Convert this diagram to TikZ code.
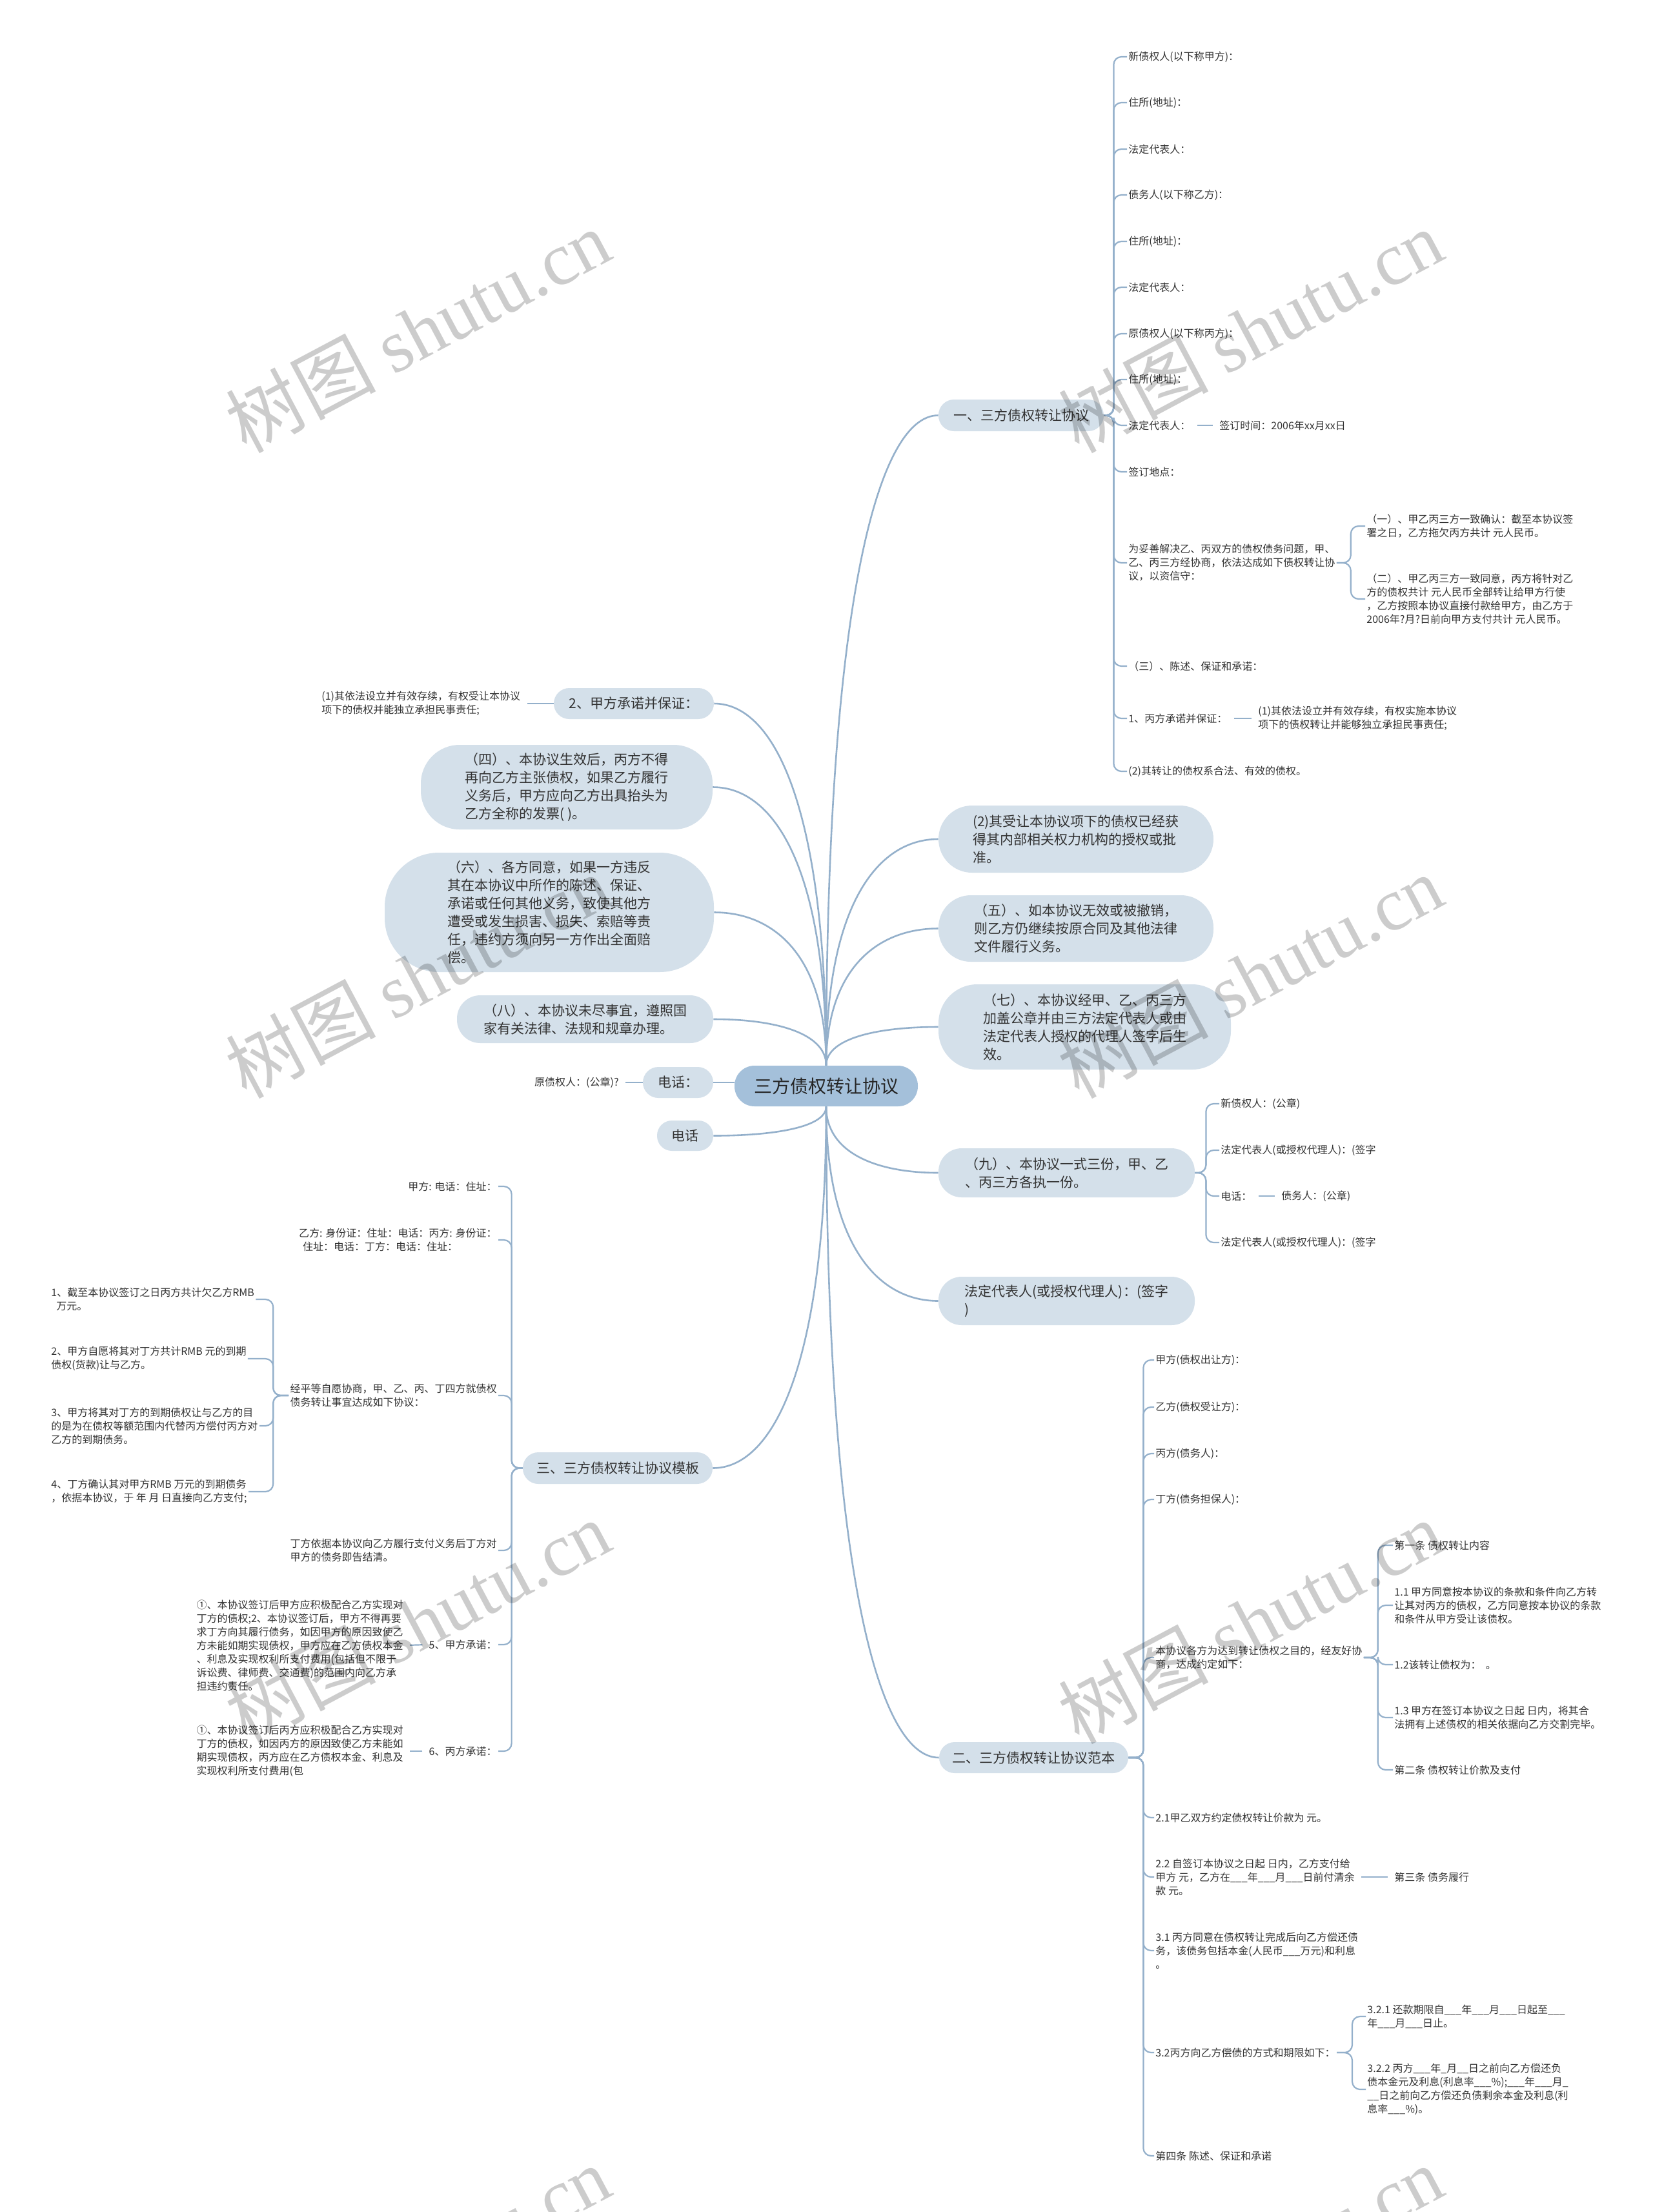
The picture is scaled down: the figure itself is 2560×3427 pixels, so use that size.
\documentclass[tikz,border=0pt]{standalone}
\usepackage{fontspec}
\setmainfont{Noto Sans CJK SC}
\newfontfamily\wmfont{Liberation Serif}
\usetikzlibrary{calc}
\definecolor{linec}{HTML}{94B0CB}
\definecolor{nodec}{HTML}{D4E0EA}
\definecolor{rootc}{HTML}{A4C0DA}
\definecolor{txtc}{HTML}{333333}
\tikzset{
 conn/.style={draw=linec, line width=1.1pt},
 rconn/.style={draw=linec, line width=1.3pt},
 rootlink/.style={to path={let \p1=(\tikztostart), \p2=(\tikztotarget) in .. controls (\x1,{\y1+0.7*(\y2-\y1)}) and ({\x2-0.55*(\x2-\x1)},\y2) .. (\tikztotarget)}},
 lf/.style={font=\fontsize{8}{10.5}\selectfont, text=txtc, inner sep=1pt, align=left},
 lw/.style={lf, anchor=west},
 le/.style={lf, anchor=east},
 bn/.style={fill=nodec, inner sep=0pt, align=left, font=\fontsize{10.5}{14}\selectfont, text=txtc},
 rootn/.style={fill=rootc, inner sep=0pt, minimum width=142pt, minimum height=31.5pt, rounded corners=15.5pt, font=\fontsize{14}{16}\selectfont, text=black!85},
 slink/.style={conn, shorten <=4pt, shorten >=4pt},
 bk/.style={conn, rounded corners=6pt},
 wm/.style={rotate=28, text=black, text opacity=0.2, font=\fontsize{58}{58}\selectfont},
}
\begin{document}
\begin{tikzpicture}[x=0.5pt,y=-0.5pt]
\useasboundingbox (0,0) rectangle (2560,3427);
\fill[white] (0,0) rectangle (2560,3427);

% ---------- root and main nodes
\node[rootn] (root) at (1280,1682.5) {三方债权转让协议};

\node[bn, minimum width=128pt, minimum height=24.5pt, rounded corners=12pt] (b1) at (1582,643.5) {一、三方债权转让协议};
\node[bn, minimum width=213pt, minimum height=52pt, rounded corners=26pt] (r2) at (1667,1300) {(2)其受让本协议项下的债权已经获\\得其内部相关权力机构的授权或批\\准。};
\node[bn, minimum width=213pt, minimum height=51.5pt, rounded corners=25pt] (r5) at (1667,1438.5) {（五）、如本协议无效或被撤销，\\则乙方仍继续按原合同及其他法律\\文件履行义务。};
\node[bn, minimum width=226.5pt, minimum height=66pt, rounded corners=30pt] (r7) at (1680.5,1591) {（七）、本协议经甲、乙、丙三方\\加盖公章并由三方法定代表人或由\\法定代表人授权的代理人签字后生\\效。};
\node[bn, minimum width=198.5pt, minimum height=38pt, rounded corners=18pt] (r9) at (1652.5,1817) {（九）、本协议一式三份，甲、乙\\、丙三方各执一份。};
\node[bn, minimum width=198.5pt, minimum height=37.5pt, rounded corners=18pt] (rfd) at (1652.5,2015.5) {法定代表人(或授权代理人)：(签字\\)};
\node[bn, minimum width=146.5pt, minimum height=24pt, rounded corners=12pt] (b2) at (1601.5,2723) {二、三方债权转让协议范本};

\node[bn, minimum width=124pt, minimum height=24pt, rounded corners=12pt] (n2jia) at (982,1090) {2、甲方承诺并保证：};
\node[bn, minimum width=226pt, minimum height=65.5pt, rounded corners=30pt] (n4) at (878,1219.5) {（四）、本协议生效后，丙方不得\\再向乙方主张债权，如果乙方履行\\义务后，甲方应向乙方出具抬头为\\乙方全称的发票( )。};
\node[bn, minimum width=255pt, minimum height=92.5pt, rounded corners=42pt] (n6) at (851,1413.5) {（六）、各方同意，如果一方违反\\其在本协议中所作的陈述、保证、\\承诺或任何其他义务，致使其他方\\遭受或发生损害、损失、索赔等责\\任，违约方须向另一方作出全面赔\\偿。};
\node[bn, minimum width=198.5pt, minimum height=37pt, rounded corners=18pt] (n8) at (906.5,1579) {（八）、本协议未尽事宜，遵照国\\家有关法律、法规和规章办理。};
\node[bn, minimum width=54.5pt, minimum height=24pt, rounded corners=12pt] (dh1) at (1050.5,1677) {电话：};
\node[bn, minimum width=43.5pt, minimum height=23.5pt, rounded corners=11.5pt] (dh2) at (1061.5,1759.5) {电话};
\node[bn, minimum width=147pt, minimum height=24.5pt, rounded corners=12pt] (b3) at (957,2274.5) {三、三方债权转让协议模板};

% ---------- branch 一 leaves
\node[lw] (a1) at (1746,88) {新债权人(以下称甲方)：};
\node[lw] (a2) at (1746,159) {住所(地址)：};
\node[lw] (a3) at (1746,231) {法定代表人：};
\node[lw] (a4) at (1746,302) {债务人(以下称乙方)：};
\node[lw] (a5) at (1746,374) {住所(地址)：};
\node[lw] (a6) at (1746,445) {法定代表人：};
\node[lw] (a7) at (1746,517) {原债权人(以下称丙方)：};
\node[lw] (a8) at (1746,588) {住所(地址)：};
\node[lw] (a9) at (1746,659) {法定代表人：};
\node[lw] (a9c) at (1887,659) {签订时间：2006年xx月xx日};
\node[lw] (a10) at (1746,731) {签订地点：};
\node[lw] (a11) at (1746,872) {为妥善解决乙、丙双方的债权债务问题，甲、\\乙、丙三方经协商，依法达成如下债权转让协\\议，以资信守：};
\node[lw] (a11a) at (2115,815) {（一）、甲乙丙三方一致确认：截至本协议签\\署之日，乙方拖欠丙方共计 元人民币。};
\node[lw] (a11b) at (2115,928) {（二）、甲乙丙三方一致同意，丙方将针对乙\\方的债权共计 元人民币全部转让给甲方行使\\，乙方按照本协议直接付款给甲方，由乙方于\\2006年?月?日前向甲方支付共计 元人民币。};
\node[lw] (a12) at (1746,1032) {（三）、陈述、保证和承诺：};
\node[lw] (a13) at (1746,1113) {1、丙方承诺并保证：};
\node[lw] (a13c) at (1947,1113) {(1)其依法设立并有效存续，有权实施本协议\\项下的债权转让并能够独立承担民事责任;};
\node[lw] (a14) at (1746,1195) {(2)其转让的债权系合法、有效的债权。};

% ---------- (九) leaves
\node[lw] (g1) at (1889,1710) {新债权人：(公章)};
\node[lw] (g2) at (1889,1782) {法定代表人(或授权代理人)：(签字};
\node[lw] (g3) at (1889,1853) {电话：};
\node[lw] (g3c) at (1983,1853) {债务人：(公章)};
\node[lw] (g4) at (1889,1925) {法定代表人(或授权代理人)：(签字};

% ---------- left small leaves
\node[lw] (c2) at (496,1090) {(1)其依法设立并有效存续，有权受让本协议\\项下的债权并能独立承担民事责任;};
\node[le] (dh1c) at (961,1677) {原债权人：(公章)?};

% ---------- branch 三 leaves
\node[le] (t1) at (772,1838) {甲方: 电话：住址：};
\node[le] (t2) at (772,1921) {乙方: 身份证：住址：电话：丙方: 身份证：\\\hspace*{3pt}住址：电话：丁方：电话：住址：};
\node[le] (t3) at (772,2162) {经平等自愿协商，甲、乙、丙、丁四方就债权\\债务转让事宜达成如下协议：};
\node[lw] (t3a) at (77,2013) {1、截至本协议签订之日丙方共计欠乙方RMB\\\hspace*{4pt}万元。};
\node[lw] (t3b) at (77,2105) {2、甲方自愿将其对丁方共计RMB 元的到期\\债权(货款)让与乙方。};
\node[lw] (t3c) at (77,2209) {3、甲方将其对丁方的到期债权让与乙方的目\\的是为在债权等额范围内代替丙方偿付丙方对\\乙方的到期债务。};
\node[lw] (t3d) at (77,2311) {4、丁方确认其对甲方RMB 万元的到期债务\\，依据本协议，于 年 月 日直接向乙方支付;};
\node[le] (t4) at (772,2402) {丁方依据本协议向乙方履行支付义务后丁方对\\甲方的债务即告结清。};
\node[le] (t5) at (772,2548) {5、甲方承诺：};
\node[le] (t5c) at (627,2549) {①、本协议签订后甲方应积极配合乙方实现对\\丁方的债权;2、本协议签订后，甲方不得再要\\求丁方向其履行债务，如因甲方的原因致使乙\\方未能如期实现债权，甲方应在乙方债权本金\\、利息及实现权利所支付费用(包括但不限于\\诉讼费、律师费、交通费)的范围内向乙方承\\担违约责任。};
\node[le] (t6) at (772,2713) {6、丙方承诺：};
\node[le] (t6c) at (627,2713) {①、本协议签订后丙方应积极配合乙方实现对\\丁方的债权，如因丙方的原因致使乙方未能如\\期实现债权，丙方应在乙方债权本金、利息及\\实现权利所支付费用(包};

% ---------- branch 二 leaves
\node[lw] (u1) at (1788,2107) {甲方(债权出让方)：};
\node[lw] (u2) at (1788,2180) {乙方(债权受让方)：};
\node[lw] (u3) at (1788,2252) {丙方(债务人)：};
\node[lw] (u4) at (1788,2323) {丁方(债务担保人)：};
\node[lw] (u5) at (1788,2568) {本协议各方为达到转让债权之目的，经友好协\\商，达成约定如下：};
\node[lw] (u5a) at (2158,2394) {第一条 债权转让内容};
\node[lw] (u5b) at (2158,2487) {1.1 甲方同意按本协议的条款和条件向乙方转\\让其对丙方的债权，乙方同意按本协议的条款\\和条件从甲方受让该债权。};
\node[lw] (u5c) at (2158,2579) {1.2该转让债权为：\ \ 。};
\node[lw] (u5d) at (2158,2661) {1.3 甲方在签订本协议之日起 日内，将其合\\法拥有上述债权的相关依据向乙方交割完毕。};
\node[lw] (u5e) at (2158,2742) {第二条 债权转让价款及支付};
\node[lw] (u6) at (1788,2816) {2.1甲乙双方约定债权转让价款为 元。};
\node[lw] (u7) at (1788,2908) {2.2 自签订本协议之日起 日内，乙方支付给\\甲方 元，乙方在\_\_\_年\_\_\_月\_\_\_日前付清余\\款 元。};
\node[lw] (u7c) at (2158,2908) {第三条 债务履行};
\node[lw] (u8) at (1788,3022) {3.1 丙方同意在债权转让完成后向乙方偿还债\\务，该债务包括本金(人民币\_\_\_万元)和利息\\。};
\node[lw] (u9) at (1788,3180) {3.2丙方向乙方偿债的方式和期限如下：};
\node[lw] (u9a) at (2116,3124) {3.2.1 还款期限自\_\_\_年\_\_\_月\_\_\_日起至\_\_\_\\年\_\_\_月\_\_\_日止。};
\node[lw] (u9b) at (2116,3237) {3.2.2 丙方\_\_\_年\_月\_\_日之前向乙方偿还负\\债本金元及利息(利息率\_\_\_\%);\_\_\_年\_\_\_月\_\\\_\_日之前向乙方偿还负债剩余本金及利息(利\\息率\_\_\_\%)。};
\node[lw] (u10) at (1788,3340) {第四条 陈述、保证和承诺};

% ---------- root connectors
\foreach \t in {b1,r2,r5,r7} \draw[rconn] (root.north) to[rootlink] (\t.west);
\foreach \t in {n2jia,n4,n6,n8} \draw[rconn] (root.north) to[rootlink] (\t.east);
\foreach \t in {r9,rfd,b2} \draw[rconn] (root.south) to[rootlink] (\t.west);
\foreach \t in {dh2,b3} \draw[rconn] (root.south) to[rootlink] (\t.east);
\draw[rconn] (dh1.east) -- (dh1.east -| root.west);

% ---------- branch connectors
\foreach \c in {a1,a2,a3,a4,a5,a6,a7,a8,a9,a10,a11,a12,a13,a14} \draw[bk] (b1.east) -- ++(15,0) |- (\c.west);
\foreach \c in {a11a,a11b} \draw[bk] (a11.east) -- ++(22,0) |- (\c.west);
\draw[slink] (a9.east) -- (a9c.west);
\draw[slink] (a13.east) -- (a13c.west);

\foreach \c in {g1,g2,g3,g4} \draw[bk] (r9.east) -- ++(17,0) |- (\c.west);
\draw[slink] (g3.east) -- (g3c.west);

\draw[conn, shorten >=4pt] (n2jia.west) -- (c2.east);
\draw[conn, shorten >=4pt] (dh1.west) -- (dh1c.east);

\foreach \c in {t1,t2,t3,t4,t5,t6} \draw[bk] (b3.west) -- ++(-17,0) |- (\c.east);
\foreach \c in {t3a,t3b,t3c,t3d} \draw[bk] (t3.west) -- ++(-24,0) |- (\c.east);
\draw[slink] (t5.west) -- (t5c.east);
\draw[slink] (t6.west) -- (t6c.east);

\foreach \c in {u1,u2,u3,u4,u5,u6,u7,u8,u9,u10} \draw[bk] (b2.east) -- ++(23,0) |- (\c.west);
\foreach \c in {u5a,u5b,u5c,u5d,u5e} \draw[bk] (u5.east) -- ++(22,0) |- (\c.west);
\draw[slink] (u7.east) -- (u7c.west);
\foreach \c in {u9a,u9b} \draw[bk] (u9.east) -- ++(24,0) |- (\c.west);

% ---------- watermarks
\foreach \wx/\wy [count=\i] in {647/512,1937/512,647/1512,1937/1512,647/2512,1937/2512,647/3512,1937/3512}
  \node[wm] (wm\i) at (\wx,\wy) {树图 {\wmfont shutu.cn}};
\end{tikzpicture}
\end{document}
